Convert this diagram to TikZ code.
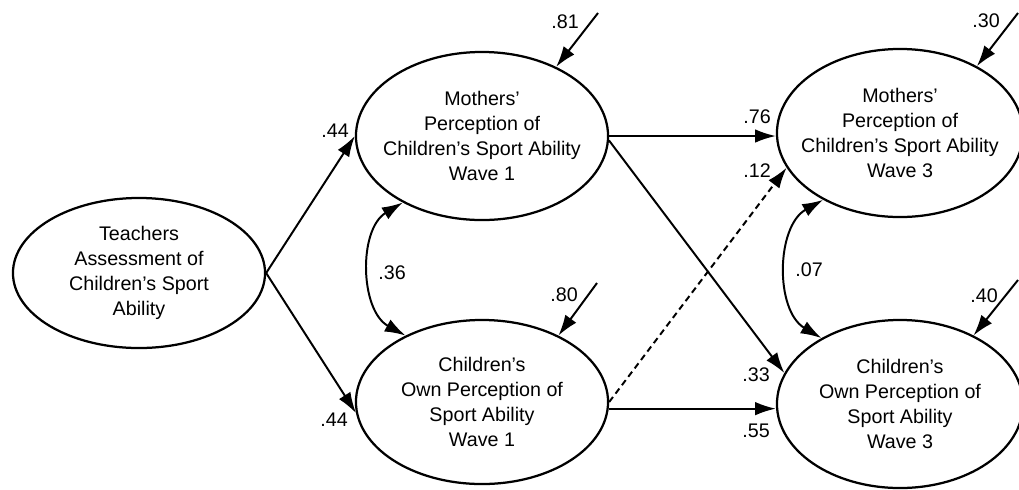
\documentclass[tikz,border=0pt]{standalone}
\usepackage{fontspec}
\setmainfont{Liberation Sans}
\usepackage{tikz}
\usetikzlibrary{arrows.meta,shapes.geometric}

\begin{document}
\begin{tikzpicture}[x=0.025cm, y=-0.025cm,
	font=\fontsize{14}{17.8}\selectfont,
	latent/.style={ellipse, draw, line width=1.6pt, inner sep=0pt, align=center},
	effect/.style={line width=1.4pt, -{Latex[length=5.2mm, width=3.4mm]}},
	cov/.style={line width=1.4pt, {Latex[length=5.2mm, width=3.4mm]}-{Latex[length=5.2mm, width=3.4mm]}},
	coef/.style={inner sep=0pt, anchor=east}]

% frame %{{{2

	\useasboundingbox[fill=white] (0,0) rectangle (1019,489);

% latent variables %{{{2

	\node[latent, minimum width=6.3cm, minimum height=3.75cm] (T) at (139,273)
		{Teachers\\Assessment of\\Children's Sport\\Ability};

	\node[latent, inner xsep=-0.3cm, minimum width=6.3cm, minimum height=4.2cm] (M1) at (482,136)
		{Mothers'\\Perception of\\Children's Sport Ability\\Wave 1};
	\node[latent, minimum width=6.3cm, minimum height=4.1cm] (C1) at (482,402)
		{Children's\\Own Perception of\\Sport Ability\\Wave 1};

	\node[latent, inner xsep=-0.3cm, minimum width=6.15cm, minimum height=4.2cm] (M3) at (900,133)
		{Mothers'\\Perception of\\Children's Sport Ability\\Wave 3};
	\node[latent, minimum width=6.15cm, minimum height=4.2cm] (C3) at (900,404)
		{Children's\\Own Perception of\\Sport Ability\\Wave 3};

% disturbances %{{{2

	\coordinate (eM1) at (598,13);
	\coordinate (eC1) at (597,283);
	\coordinate (eM3) at (1018,13);
	\coordinate (eC3) at (1018,280);

	\draw[effect] (eM1) -- (M1.43);
	\draw[effect] (eC1) -- (C1.41);
	\draw[effect] (eM3) -- (M3.41);
	\draw[effect] (eC3) -- (C3.43);

% paths %{{{2

	\draw[effect] (T.east) -- (M1.west);
	\draw[effect] (T.east) -- (C1.185);

	\draw[effect] (M1.east) -- (M1.east -| M3.west);
	\draw[effect] (M1.-2) -- (C3.165);
	\draw[effect, dash pattern=on 4.5pt off 3pt] (C1.east) -- (M3.197);
	\draw[effect] (C1.-3) -- (C1.-3 -| C3.west);

% covariances %{{{2

	\draw[cov] (M1.220) to[bend right=60] (C1.139);
	\draw[cov] (M3.221) to[bend right=60] (C3.140);

% coefficients %{{{2

	\node[coef] (bTM) at (349,131) {.44};
	\node[coef] (bTC) at (348,420) {.44};
	\node[coef] (r1) at (406,273) {.36};
	\node[coef] (dM1) at (579,22) {.81};
	\node[coef] (dC1) at (578,295) {.80};
	\node[coef] (bMM) at (771,117) {.76};
	\node[coef] (bCM) at (771,171) {.12};
	\node[coef] (bMC) at (770,375) {.33};
	\node[coef] (bCC) at (770,431) {.55};
	\node[coef] (r3) at (823,270) {.07};
	\node[coef] (dM3) at (1000,21) {.30};
	\node[coef] (dC3) at (998,296) {.40};

% closing %{{{2

\end{tikzpicture}
\end{document}
